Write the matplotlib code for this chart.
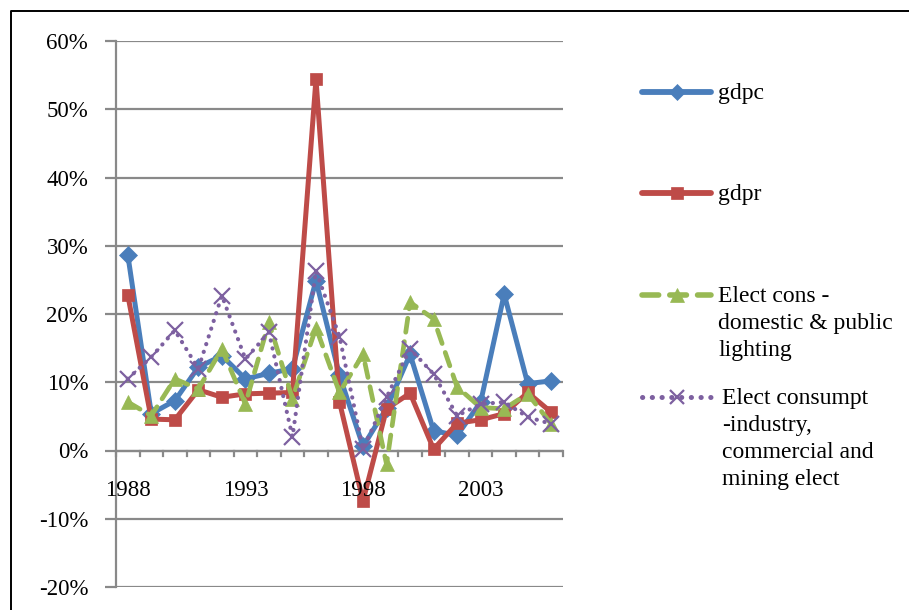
import matplotlib
matplotlib.use("Agg")
import matplotlib.pyplot as plt
from matplotlib.lines import Line2D
from matplotlib.ticker import FixedLocator, PercentFormatter

plt.rcParams['font.family'] = ['Liberation Serif', 'DejaVu Serif']
plt.rcParams['axes.unicode_minus'] = False

years = list(range(1988, 2007))
gdpc = [28.7, 5.4, 7.3, 12.2, 13.9, 10.5, 11.3, 12.0, 24.9, 11.0, 0.6, 6.2,
        14.1, 2.9, 2.2, 7.1, 22.9, 9.8, 10.2]
gdpr = [22.8, 4.6, 4.5, 8.9, 7.8, 8.3, 8.4, 8.5, 54.4, 7.1, -7.4, 6.1,
        8.4, 0.2, 4.0, 4.5, 5.4, 8.5, 5.6]
elec_domestic = [7.1, 5.1, 10.5, 9.0, 14.9, 6.8, 18.8, 7.6, 18.0, 8.5, 14.1, -2.0,
                 21.7, 19.3, 9.3, 6.3, 6.1, 8.3, 3.9]
elec_industry = [10.5, 13.7, 17.6, 12.0, 22.7, 13.4, 17.3, 2.0, 26.3, 16.7, 0.2, 7.8,
                 14.9, 11.2, 5.1, 6.8, 7.1, 4.9, 3.9]
labels = ["gdpc", "gdpr", "Elect cons -\ndomestic & public\nlighting",
          "Elect consumpt\n-industry,\ncommercial and\nmining elect"]
year_labels = ["1988", "1993", "1998", "2003"]

BLUE, RED, GREEN, PURPLE = "#4A7EBB", "#BE4B48", "#98B954", "#7D60A0"
GRID = "#898989"

W, H = 909, 610
fig = plt.figure(figsize=(W / 100, H / 100), dpi=100)

def fx(px):
    return px / W

def fy(py):
    return 1 - py / H

# plot area in pixels: x 116..563, y 41..587
ax = fig.add_axes([fx(116), fy(587), fx(563) - fx(116), fy(41) - fy(587)])
n = len(years)
xs = list(range(n))
ax.set_xlim(-0.5, n - 0.5)
ax.set_ylim(-20, 60)

styles = [
    dict(data=gdpc, color=BLUE, ls="-", marker="D", ms=9.5, lw=3.6),
    dict(data=gdpr, color=RED, ls="-", marker="s", ms=9, lw=3.6),
    dict(data=elec_domestic, color=GREEN, ls=(0, (3, 2)), marker="^", ms=10.5, lw=3.4),
    dict(data=elec_industry, color=PURPLE, ls=(0, (0.05, 1.9)), marker="x", ms=11, lw=3.0),
]
for s in styles:
    mk = s["marker"]
    ax.plot(xs, s["data"], color=s["color"], linestyle=s["ls"], lw=s["lw"],
            marker=mk, ms=s["ms"], mfc=s["color"], mec=s["color"],
            mew=1.6 if mk == "x" else 0.5, dash_capstyle="round",
            solid_joinstyle="round", zorder=3)

# horizontal gridlines and value axis
ax.yaxis.set_major_locator(FixedLocator(range(-20, 61, 10)))
ax.yaxis.set_major_formatter(PercentFormatter(decimals=0))
ax.grid(axis="y", color=GRID, lw=1.6)
ax.set_axisbelow(True)
ax.tick_params(axis="y", length=8, width=1.6, color=GRID, labelsize=16.5, pad=12)
for side in ("top", "right", "bottom"):
    ax.spines[side].set_visible(False)
ax.spines["left"].set_color(GRID)
ax.spines["left"].set_linewidth(1.6)

# category axis drawn along the 0% line
ax.set_xticks([])
ax.axhline(0, color=GRID, lw=1.6, zorder=2)
for b in range(n + 1):
    ax.plot([b - 0.5, b - 0.5], [0, -0.8], color=GRID, lw=1.6, zorder=2,
            clip_on=False)
for i, lab in enumerate(year_labels):
    ax.text(years.index(int(lab)), -5.8, lab, ha="center", va="center",
            fontsize=16.5)

# legend on the right
legend_rows = [92, 193, 295, 397]
for hy, s, lab, tx in zip(legend_rows, styles, labels, [718, 718, 718, 722]):
    fig.add_artist(Line2D([fx(642), fx(711)], [fy(hy), fy(hy)], color=s["color"],
                          linestyle=s["ls"], lw=s["lw"] + 0.6,
                          dash_capstyle="round", solid_capstyle="round"))
    fig.add_artist(Line2D([fx(676.5)], [fy(hy)], color=s["color"], marker=s["marker"],
                          ms=s["ms"] * 0.9, mfc=s["color"], mec=s["color"],
                          mew=1.6 if s["marker"] == "x" else 0.5, linestyle="none"))
    fig.text(fx(tx), fy(hy - 9), lab, ha="left", va="top", fontsize=17,
             linespacing=1.37, transform=fig.transFigure)

# frame lines on the left and top
fig.add_artist(Line2D([fx(11), fx(11), fx(909)], [fy(610), fy(11), fy(11)],
                      color="black", lw=1.4))

fig.savefig("out.png", dpi=100)
